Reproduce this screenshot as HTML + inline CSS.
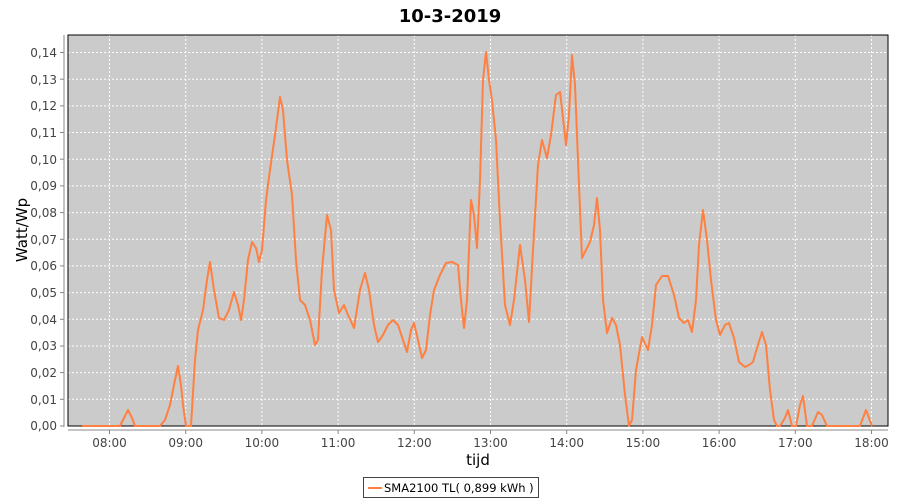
<!DOCTYPE html>
<html><head><meta charset="utf-8"><style>
body{margin:0;background:#fff;}
svg{display:block;font-family:"DejaVu Sans","Liberation Sans",sans-serif;}
</style></head><body>
<svg width="900" height="500" viewBox="0 0 900 500" xmlns="http://www.w3.org/2000/svg">
<rect width="900" height="500" fill="#fff"/>
<text x="450" y="22" text-anchor="middle" font-size="18" font-weight="bold" fill="#000">10-3-2019</text>
<rect x="68" y="35" width="820" height="391" fill="#cbcbcb"/>
<g stroke="#fff" stroke-width="1" stroke-dasharray="2,2">
<line x1="68" x2="888" y1="52.5" y2="52.5"/><line x1="68" x2="888" y1="79.2" y2="79.2"/><line x1="68" x2="888" y1="105.9" y2="105.9"/><line x1="68" x2="888" y1="132.5" y2="132.5"/><line x1="68" x2="888" y1="159.2" y2="159.2"/><line x1="68" x2="888" y1="185.9" y2="185.9"/><line x1="68" x2="888" y1="212.6" y2="212.6"/><line x1="68" x2="888" y1="239.3" y2="239.3"/><line x1="68" x2="888" y1="265.9" y2="265.9"/><line x1="68" x2="888" y1="292.6" y2="292.6"/><line x1="68" x2="888" y1="319.3" y2="319.3"/><line x1="68" x2="888" y1="346" y2="346"/><line x1="68" x2="888" y1="372.6" y2="372.6"/><line x1="68" x2="888" y1="399.3" y2="399.3"/>
<line y1="35" y2="426" x1="109.5" x2="109.5"/><line y1="35" y2="426" x1="185.7" x2="185.7"/><line y1="35" y2="426" x1="261.9" x2="261.9"/><line y1="35" y2="426" x1="338.1" x2="338.1"/><line y1="35" y2="426" x1="414.3" x2="414.3"/><line y1="35" y2="426" x1="490.5" x2="490.5"/><line y1="35" y2="426" x1="566.7" x2="566.7"/><line y1="35" y2="426" x1="642.9" x2="642.9"/><line y1="35" y2="426" x1="719.1" x2="719.1"/><line y1="35" y2="426" x1="795.3" x2="795.3"/><line y1="35" y2="426" x1="871.5" x2="871.5"/>
</g>
<rect x="68" y="35" width="820" height="391" fill="none" stroke="#000" stroke-width="1"/>
<line x1="64" y1="35" x2="64" y2="427" stroke="#888"/>
<line x1="68" y1="430" x2="888" y2="430" stroke="#888"/>
<g stroke="#888">
<line x1="60" x2="64" y1="52.5" y2="52.5"/><line x1="60" x2="64" y1="79.2" y2="79.2"/><line x1="60" x2="64" y1="105.9" y2="105.9"/><line x1="60" x2="64" y1="132.5" y2="132.5"/><line x1="60" x2="64" y1="159.2" y2="159.2"/><line x1="60" x2="64" y1="185.9" y2="185.9"/><line x1="60" x2="64" y1="212.6" y2="212.6"/><line x1="60" x2="64" y1="239.3" y2="239.3"/><line x1="60" x2="64" y1="265.9" y2="265.9"/><line x1="60" x2="64" y1="292.6" y2="292.6"/><line x1="60" x2="64" y1="319.3" y2="319.3"/><line x1="60" x2="64" y1="346" y2="346"/><line x1="60" x2="64" y1="372.6" y2="372.6"/><line x1="60" x2="64" y1="399.3" y2="399.3"/><line x1="60" x2="64" y1="426" y2="426"/>
<line y1="430" y2="434" x1="109.5" x2="109.5"/><line y1="430" y2="434" x1="185.7" x2="185.7"/><line y1="430" y2="434" x1="261.9" x2="261.9"/><line y1="430" y2="434" x1="338.1" x2="338.1"/><line y1="430" y2="434" x1="414.3" x2="414.3"/><line y1="430" y2="434" x1="490.5" x2="490.5"/><line y1="430" y2="434" x1="566.7" x2="566.7"/><line y1="430" y2="434" x1="642.9" x2="642.9"/><line y1="430" y2="434" x1="719.1" x2="719.1"/><line y1="430" y2="434" x1="795.3" x2="795.3"/><line y1="430" y2="434" x1="871.5" x2="871.5"/>
</g>
<g font-size="12" fill="#444" text-anchor="end">
<text x="57" y="57">0,14</text><text x="57" y="84">0,13</text><text x="57" y="110">0,12</text><text x="57" y="137">0,11</text><text x="57" y="164">0,10</text><text x="57" y="190">0,09</text><text x="57" y="217">0,08</text><text x="57" y="244">0,07</text><text x="57" y="270">0,06</text><text x="57" y="297">0,05</text><text x="57" y="324">0,04</text><text x="57" y="350">0,03</text><text x="57" y="377">0,02</text><text x="57" y="404">0,01</text><text x="57" y="430">0,00</text>
</g>
<g font-size="12" fill="#444" text-anchor="middle">
<text x="109.5" y="447">08:00</text><text x="185.7" y="447">09:00</text><text x="261.9" y="447">10:00</text><text x="338.1" y="447">11:00</text><text x="414.3" y="447">12:00</text><text x="490.5" y="447">13:00</text><text x="566.7" y="447">14:00</text><text x="642.9" y="447">15:00</text><text x="719.1" y="447">16:00</text><text x="795.3" y="447">17:00</text><text x="871.5" y="447">18:00</text>
</g>
<text x="478" y="465" text-anchor="middle" font-size="15" fill="#000">tijd</text>
<text transform="translate(27,230) rotate(-90)" text-anchor="middle" font-size="15" fill="#000">Watt/Wp</text>
<polyline fill="none" stroke="#ff8040" stroke-width="2" stroke-linejoin="round" points="82,426 120,426 124,418 128,410 132,418 135,426 160,426 165,420 170,405 175,380 178,366 181,385 183,405 186,426 191,426 195,360 198,330 203,310 207,280 210,262 214,290 219,318 224,320 229,310 234,292 238,305 241,320 244,300 248,260 252,242 256,248 259,262 262,250 266,200 270,170 275,135 280,97 283,110 287,160 292,195 296,260 300,300 305,305 310,320 315,345 318,340 322,270 327,215 331,230 334,290 339,313 344,305 348,315 354,328 360,290 365,273 369,290 374,325 378,342 383,335 388,325 393,320 398,325 403,340 407,352 411,330 414,323 418,340 422,358 426,350 430,315 434,290 440,275 446,263 452,262 458,265 461,300 464,328 467,300 471,200 474,215 477,248 480,180 483,80 486,52 489,80 492,100 496,140 500,220 505,305 510,325 514,300 520,245 525,280 529,322 533,250 538,165 542,140 547,158 551,135 556,95 560,92 563,118 566,145 569,115 572,55 575,85 578,160 582,258 586,250 590,242 594,225 597,198 600,230 603,300 607,333 612,318 616,325 620,345 625,395 629,426 632,420 636,370 642,337 648,350 652,325 656,285 662,276 668,276 674,295 679,318 684,323 688,320 692,332 696,300 699,245 703,210 707,240 711,280 716,320 720,335 725,325 729,323 734,338 739,362 745,367 749,365 753,362 757,348 762,332 766,345 770,390 774,420 777,426 780,426 785,418 788,410 792,426 796,426 800,405 803,396 807,426 812,426 818,412 822,415 827,426 860,426 866,410 872,426"/>
<rect x="363.5" y="477.5" width="175" height="20" fill="#fff" stroke="#444"/>
<line x1="368" x2="382" y1="488" y2="488" stroke="#ff8040" stroke-width="2"/>
<text x="384" y="492" font-size="11.5" fill="#000">SMA2100 TL( 0,899 kWh )</text>
</svg>
</body></html>
